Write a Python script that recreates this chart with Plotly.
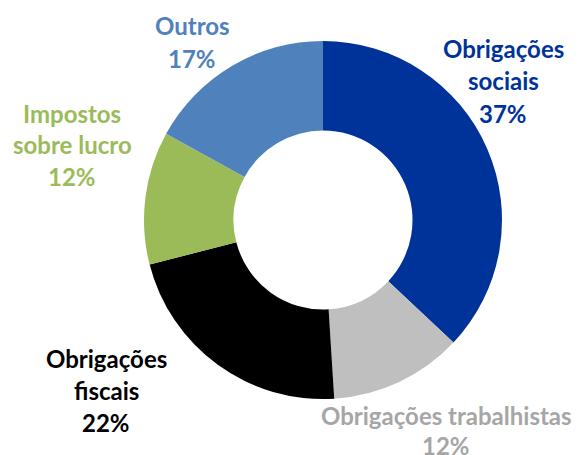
import plotly.graph_objects as go

categories = ["Obrigações sociais", "Obrigações trabalhistas", "Obrigações fiscais",
              "Impostos sobre lucro", "Outros"]
label_lines = [["Obrigações", "sociais"], ["Obrigações trabalhistas"], ["Obrigações", "fiscais"],
               ["Impostos", "sobre lucro"], ["Outros"]]
values = [37, 12, 22, 12, 17]
slice_colors = ["#003399", "#BFBFBF", "#000000", "#9BBB59", "#4F81BD"]
text_colors = ["#003399", "#A6A6A6", "#000000", "#9BBB59", "#4F81BD"]

OFF = 8  # page body margin
W, H = 580 - OFF, 455 - OFF
CX, CY, R = 323 - OFF, 220 - OFF, 179
# label block positions (page pixel centre x, first-line centre y, line step)
label_pos = [(503, 48, 32.5), (446, 415, 30), (106, 358, 32), (72, 113, 32), (192, 25, 33)]

fig = go.Figure(go.Pie(
    labels=categories, values=values, hole=0.5, sort=False, direction="clockwise",
    rotation=0, marker=dict(colors=slice_colors, line=dict(width=0)),
    textinfo="none", hoverinfo="label+percent",
    domain=dict(x=[(CX - R) / W, (CX + R) / W], y=[(H - CY - R) / H, (H - CY + R) / H]),
    showlegend=False,
))

annotations = []
for lines, v, col, (px, py, step) in zip(label_lines, values, text_colors, label_pos):
    for i, t in enumerate(lines + [f"{v}%"]):
        annotations.append(dict(
            x=(px - OFF) / W, y=1 - (py - OFF + i * step) / H, xref="paper", yref="paper",
            text=t, showarrow=False, xanchor="center", yanchor="middle",
            font=dict(family="Lato", size=24, color=col, weight="bold"),
        ))

fig.update_layout(
    width=W, height=H, margin=dict(l=0, r=0, t=0, b=0),
    paper_bgcolor="white", plot_bgcolor="white", annotations=annotations,
)
fig.write_html("out.html")
